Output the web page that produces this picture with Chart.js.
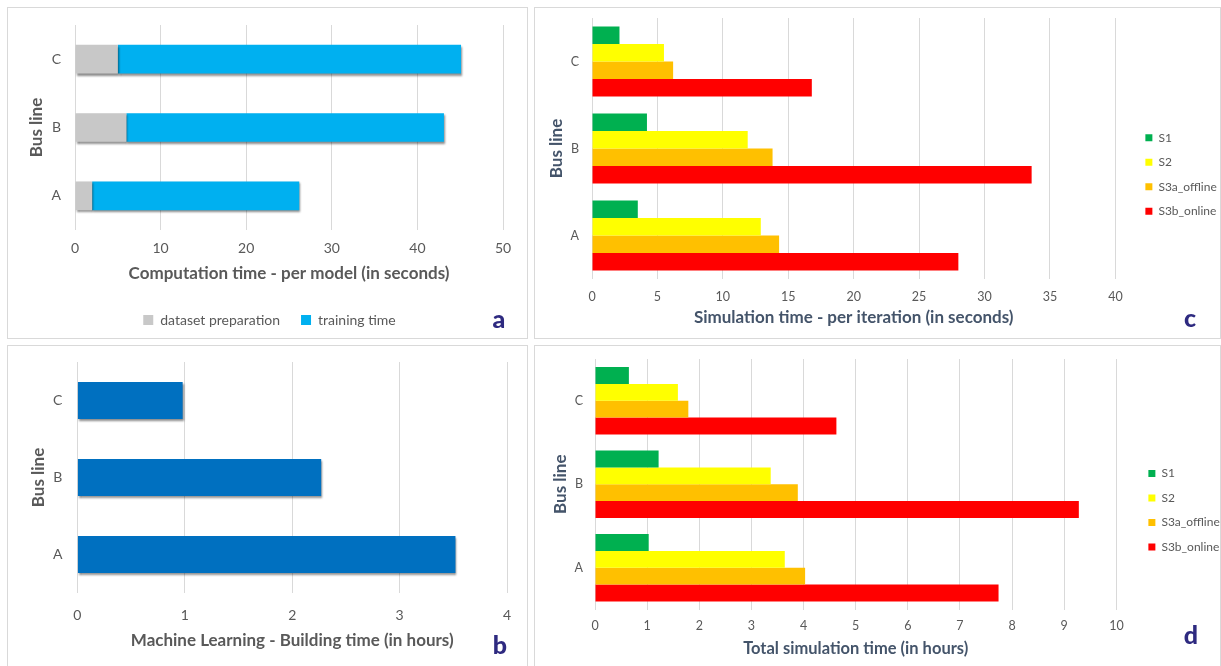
<!DOCTYPE html>
<html>
<head>
<meta charset="utf-8">
<script src="https://cdn.jsdelivr.net/npm/chart.js@4/dist/chart.umd.min.js"></script>
<style>
  html, body { margin: 0; padding: 0; background: #ffffff; }
  body { width: 1221px; height: 666px; position: relative; overflow: hidden; font-family: Lato, sans-serif; }
  .panel { position: absolute; border: 1px solid #d9d9d9; box-sizing: border-box; }
  canvas { position: absolute; }
  .tag { position: absolute; font: 900 25px Lato, sans-serif; color: #2e2a80; transform: translate(-50%, -50%); line-height: 1; }
</style>
</head>
<body>
<div class="panel" style="left:7px;top:7px;width:521px;height:332px"></div>
<div class="panel" style="left:534px;top:7px;width:687px;height:332px"></div>
<div class="panel" style="left:7px;top:345px;width:521px;height:330px"></div>
<div class="panel" style="left:534px;top:345px;width:687px;height:330px"></div>

<canvas id="chartA" width="520" height="331" style="left:7px;top:7px"></canvas>
<canvas id="chartC" width="687" height="331" style="left:534px;top:7px"></canvas>
<canvas id="chartB" width="520" height="321" style="left:7px;top:345px"></canvas>
<canvas id="chartD" width="687" height="321" style="left:534px;top:345px"></canvas>

<div class="tag" style="left:499px;top:318px">a</div>
<div class="tag" style="left:500px;top:644px">b</div>
<div class="tag" style="left:1190px;top:317px">c</div>
<div class="tag" style="left:1191px;top:634px">d</div>

<script>
// Bus lines (categories, drawn bottom-to-top: A at the bottom)
const busLines = ['A', 'B', 'C'];

// (a) computation time per model, seconds
const prepSeconds = [2, 6, 5];
const trainSeconds = [24.2, 37.1, 40.1];
const computeTicks = [0, 10, 20, 30, 40, 50];

// (b) machine-learning building time, hours
const buildHours = [3.52, 2.27, 0.98];
const buildTicks = [0, 1, 2, 3, 4];

// (c) simulation time per iteration, seconds
const scenarioNames = ['S1', 'S2', 'S3a_offline', 'S3b_online'];
const iterS1 = [3.5, 4.2, 2.1];
const iterS2 = [12.9, 11.9, 5.5];
const iterS3a = [14.3, 13.8, 6.2];
const iterS3b = [28.0, 33.6, 16.8];
const iterTicks = [0, 5, 10, 15, 20, 25, 30, 35, 40];

// (d) total simulation time, hours
const totalS1 = [1.03, 1.22, 0.65];
const totalS2 = [3.64, 3.37, 1.59];
const totalS3a = [4.03, 3.89, 1.79];
const totalS3b = [7.74, 9.28, 4.63];
const totalTicks = [0, 1, 2, 3, 4, 5, 6, 7, 8, 9, 10];

const scenarioColors = ['#00b050', '#ffff00', '#ffc000', '#ff0000'];
const FONT = 'Lato, "Open Sans", sans-serif';
const GRID = '#d9d9d9';
const TICK_COLOR = '#595959';

Chart.defaults.font.family = FONT;
Chart.defaults.animation = false;
Chart.defaults.responsive = false;
Chart.defaults.devicePixelRatio = 1;
Chart.defaults.plugins.tooltip.enabled = false;

// soft drop shadow under the bars of panels a and b
const barShadow = {
  id: 'barShadow',
  beforeDatasetsDraw(chart) {
    const c = chart.ctx;
    c.save();
    c.shadowColor = 'rgba(0,0,0,0.45)';
    c.shadowBlur = 2;
    c.shadowOffsetX = 1;
    c.shadowOffsetY = 2;
  },
  afterDatasetsDraw(chart) { chart.ctx.restore(); }
};

function valueAxis(ticks, opts) {
  return {
    type: 'linear',
    min: ticks[0],
    max: ticks[ticks.length - 1],
    stacked: !!opts.stacked,
    grid: { color: GRID, lineWidth: 1, drawTicks: false },
    border: { display: false },
    ticks: {
      stepSize: ticks[1] - ticks[0],
      color: TICK_COLOR,
      padding: opts.tickPad,
      font: { size: opts.tickSize }
    },
    title: {
      display: true,
      text: opts.title,
      color: opts.titleColor,
      font: { size: opts.titleSize, weight: 'bold' },
      padding: { top: 0, bottom: opts.titlePad }
    },
    afterFit(s) { s.height = opts.height; }
  };
}

function categoryAxis(opts) {
  return {
    type: 'category',
    reverse: true,
    stacked: !!opts.stacked,
    grid: { display: false, drawTicks: false },
    border: { display: false },
    ticks: { color: TICK_COLOR, padding: opts.tickPad, font: { size: opts.tickSize } },
    title: {
      display: true,
      text: 'Bus line',
      color: opts.titleColor,
      font: { size: 17, weight: 'bold' },
      padding: { top: opts.titlePad, bottom: 0 }
    },
    afterFit(s) {
      s.width = opts.width;
      s.paddingTop = 0;
      s.paddingBottom = 0;
    }
  };
}

// spacer between plot area and the right-hand legend
function gapAxis(width) {
  return {
    type: 'category',
    position: 'right',
    display: true,
    grid: { display: false, drawTicks: false },
    border: { display: false },
    ticks: { display: false },
    afterFit(s) {
      s.width = width;
      s.paddingTop = 0;
      s.paddingBottom = 0;
    }
  };
}

// (a) stacked: dataset preparation + training time
new Chart(document.getElementById('chartA'), {
  type: 'bar',
  data: {
    labels: busLines,
    datasets: [
      { label: 'dataset preparation', data: prepSeconds, backgroundColor: '#c8c8c8', borderWidth: 0 },
      { label: 'training time', data: trainSeconds, backgroundColor: '#00b0f0', borderWidth: 0 }
    ]
  },
  options: {
    indexAxis: 'y',
    datasets: { bar: { categoryPercentage: 1, barPercentage: 0.42 } },
    layout: { padding: { left: 29, right: 24, top: 18, bottom: 1 } },
    scales: {
      x: valueAxis(computeTicks, { stacked: true, tickPad: 10, tickSize: 14, title: 'Computation time - per model (in seconds)', titleColor: '#595959', titleSize: 17, titlePad: 8, height: 62 }),
      y: categoryAxis({ stacked: true, tickPad: 14, tickSize: 14, titleColor: '#595959', titlePad: -9.7, width: 39 })
    },
    plugins: {
      legend: {
        position: 'bottom',
        labels: { boxWidth: 10, boxHeight: 10, padding: 21, color: '#595959', font: { size: 14 } }
      }
    }
  },
  plugins: [barShadow]
});

// (b) machine-learning building time
new Chart(document.getElementById('chartB'), {
  type: 'bar',
  data: {
    labels: busLines,
    datasets: [
      { label: 'Building time', data: buildHours, backgroundColor: '#0070c0', borderWidth: 0 }
    ]
  },
  options: {
    indexAxis: 'y',
    datasets: { bar: { categoryPercentage: 1, barPercentage: 0.48 } },
    layout: { padding: { left: 0, right: 20, top: 17, bottom: 5 } },
    scales: {
      x: valueAxis(buildTicks, { tickPad: 13.6, tickSize: 14, title: 'Machine Learning - Building time (in hours)', titleColor: '#595959', titleSize: 17, titlePad: 10, height: 68 }),
      y: categoryAxis({ tickPad: 15, tickSize: 14, titleColor: '#595959', titlePad: 21.8, width: 70.4 })
    },
    plugins: { legend: { display: false } }
  },
  plugins: [barShadow]
});

function scenarioSets(series) {
  return series.map((d, i) => ({
    label: scenarioNames[i],
    data: d,
    backgroundColor: scenarioColors[i],
    borderWidth: 0
  }));
}

const scenarioLegend = {
  position: 'right',
  labels: { boxWidth: 7, boxHeight: 7, padding: 12.5, color: '#595959', font: { size: 12 } }
};

// (c) simulation time per iteration
new Chart(document.getElementById('chartC'), {
  type: 'bar',
  data: { labels: busLines, datasets: scenarioSets([iterS1, iterS2, iterS3a, iterS3b]) },
  options: {
    indexAxis: 'y',
    datasets: { bar: { categoryPercentage: 0.805, barPercentage: 1 } },
    layout: { padding: { left: 0, right: -5.75, top: 11, bottom: 7 } },
    scales: {
      x: valueAxis(iterTicks, { tickPad: 10.8, tickSize: 12.5, title: 'Simulation time - per iteration (in seconds)', titleColor: '#44546a', titleSize: 17, titlePad: 3.5, height: 52 }),
      y: categoryAxis({ tickPad: 13, tickSize: 12.5, titleColor: '#44546a', titlePad: 12.8, width: 58 }),
      gap: gapAxis(17.5)
    },
    plugins: { legend: scenarioLegend }
  }
});

// (d) total simulation time
new Chart(document.getElementById('chartD'), {
  type: 'bar',
  data: { labels: busLines, datasets: scenarioSets([totalS1, totalS2, totalS3a, totalS3b]) },
  options: {
    indexAxis: 'y',
    datasets: { bar: { categoryPercentage: 0.807, barPercentage: 1 } },
    layout: { padding: { left: 0, right: -8.75, top: 14, bottom: 4.5 } },
    scales: {
      x: valueAxis(totalTicks, { tickPad: 9.3, tickSize: 12.5, title: 'Total simulation time (in hours)', titleColor: '#44546a', titleSize: 16.5, titlePad: 3.3, height: 52 }),
      y: categoryAxis({ tickPad: 12, tickSize: 12.5, titleColor: '#44546a', titlePad: 16.8, width: 61 }),
      gap: gapAxis(19.5)
    },
    plugins: { legend: scenarioLegend }
  }
});
</script>
</body>
</html>
